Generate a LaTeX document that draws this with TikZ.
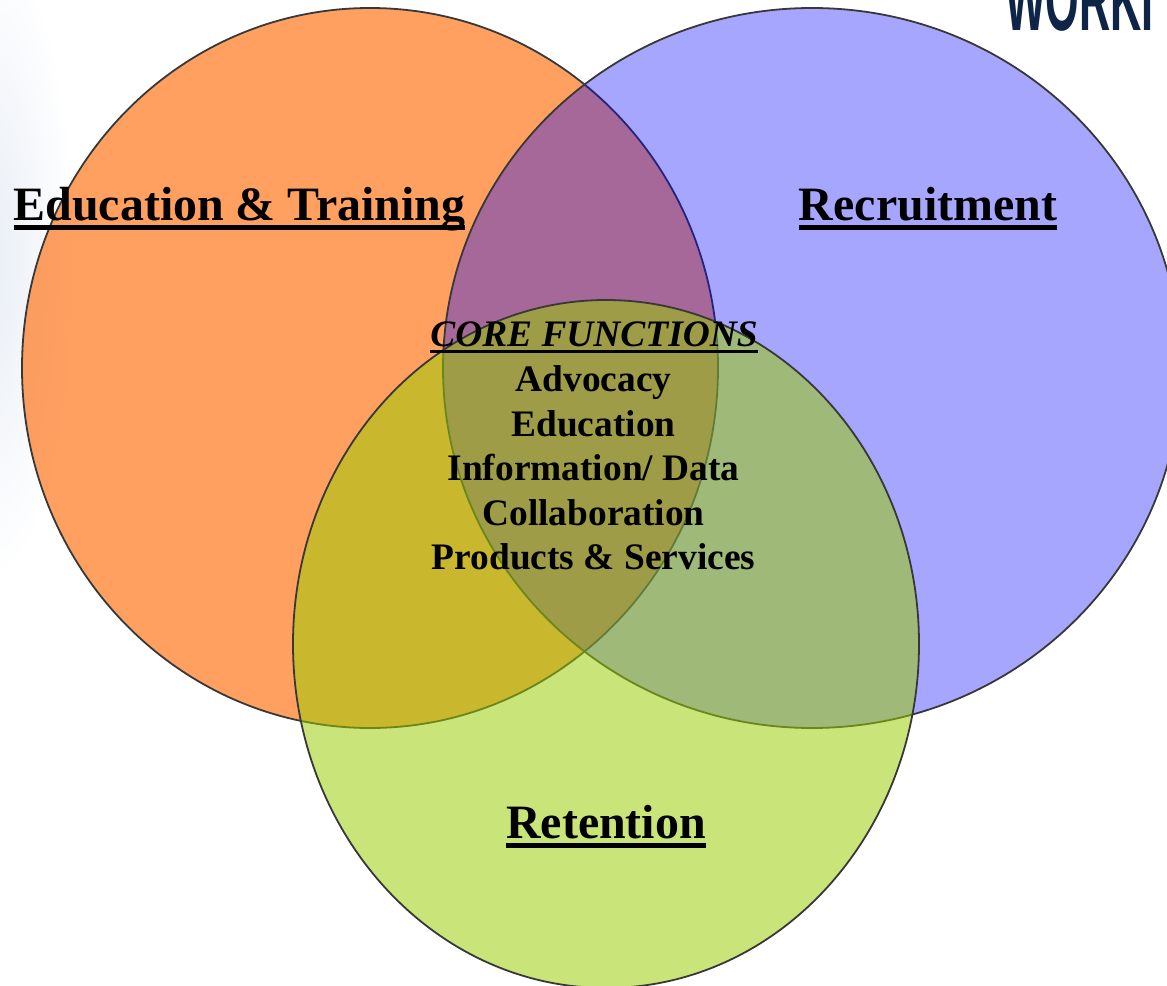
\documentclass[tikz,border=0pt]{standalone}
\usepackage{fontspec}
\setmainfont{Liberation Serif}
\newfontfamily\logofont{Liberation Sans}
\newcommand{\ulbox}[1]{\setbox0\hbox{#1}\rlap{\rule[-0.2em]{\wd0}{0.095em}}\box0}
\definecolor{orangefill}{HTML}{FF6600}
\definecolor{bluefill}{HTML}{0000FF}
\definecolor{greenfill}{HTML}{99CC00}
\definecolor{rimcolor}{HTML}{383838}
\definecolor{logonavy}{HTML}{0F2547}
\definecolor{hazeblue}{HTML}{E8EEF6}
\tikzset{
  x=1pt,y=-1pt,
  rim/.style={draw=rimcolor,line width=1.8pt,fill opacity=#1},
  heading/.style={font=\fontsize{47.9}{50}\selectfont\bfseries,text=black,inner sep=0pt,anchor=base},
  corehead/.style={font=\fontsize{37.4}{40}\selectfont\bfseries\itshape,text=black,inner sep=0pt,anchor=base},
  coreline/.style={font=\fontsize{37.4}{40}\selectfont\bfseries,text=black,inner sep=0pt,anchor=base}
}
\begin{document}
\begin{tikzpicture}
\useasboundingbox (0,0) rectangle (1167,985);
\clip (0,0) rectangle (1167,985);
\fill[white] (0,0) rectangle (1167,985);
\shade[inner color=hazeblue,outer color=white,draw=none] (-10,260) ellipse [x radius=85,y radius=320];
\node[font=\logofont\bfseries\fontsize{90}{90}\selectfont,text=logonavy,inner sep=0pt,anchor=base west,xscale=.48] (logo) at (1005,30) {WORKI};
\path[rim=.62,fill=orangefill] (370,368) ellipse [x radius=348,y radius=360];
\path[rim=.35,fill=bluefill] (812,368) ellipse [x radius=369,y radius=360];
\path[rim=.53,fill=greenfill] (606,644) ellipse [x radius=313,y radius=344];
\node[heading] (edu) at (239.5,220) {\ulbox{Education \& Training}};
\node[heading] (rec) at (928,220) {\ulbox{Recruitment}};
\node[heading] (ret) at (606,838) {\ulbox{Retention}};
\node[corehead] (core) at (594,346) {\ulbox{CORE FUNCTIONS}};
\node[coreline] (l1) at (593.5,391) {Advocacy};
\node[coreline] (l2) at (593.5,436) {Education};
\node[coreline] (l3) at (593.5,480) {Information/ Data};
\node[coreline] (l4) at (593.5,525) {Collaboration};
\node[coreline] (l5) at (593.5,569) {Products \& Services};
\end{tikzpicture}
\end{document}
